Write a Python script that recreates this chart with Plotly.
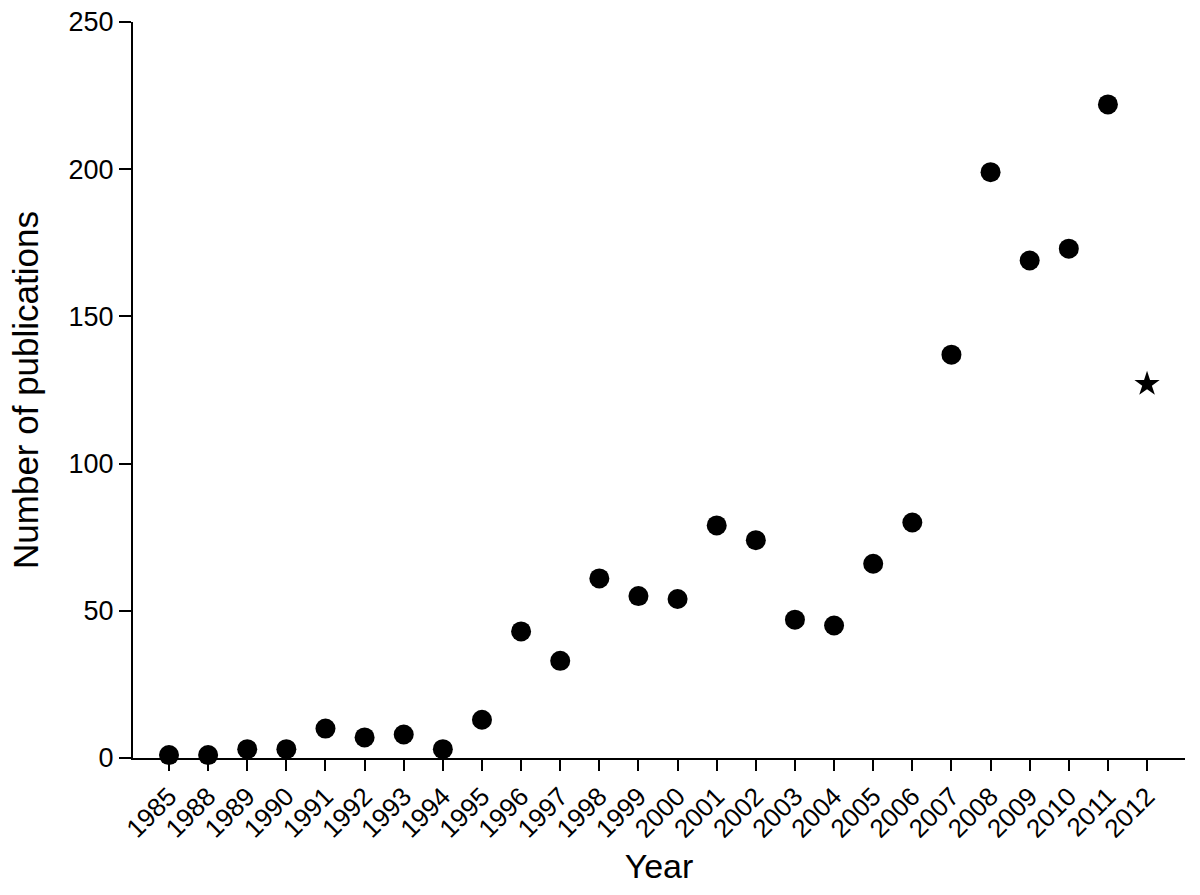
import plotly.graph_objects as go

years = ["1985", "1988", "1989", "1990", "1991", "1992", "1993", "1994", "1995",
         "1996", "1997", "1998", "1999", "2000", "2001", "2002", "2003", "2004",
         "2005", "2006", "2007", "2008", "2009", "2010", "2011"]
publications = [1, 1, 3, 3, 10, 7, 8, 3, 13, 43, 33, 61, 55, 54, 79, 74, 47, 45,
                66, 80, 137, 199, 169, 173, 222]
partial_year = ["2012"]
partial_value = [127]

all_years = years + partial_year

fig = go.Figure()
fig.add_trace(go.Scatter(
    x=years, y=publications, mode="markers",
    marker=dict(symbol="circle", size=20, color="black"),
    cliponaxis=False, showlegend=False,
))
fig.add_trace(go.Scatter(
    x=partial_year, y=partial_value, mode="markers",
    marker=dict(symbol="star", size=19, color="black"),
    cliponaxis=False, showlegend=False,
))

font_family = "Liberation Sans, Arial, sans-serif"
fig.update_layout(
    width=1200, height=895,
    margin=dict(l=133, r=15, t=22, b=137, autoexpand=False),
    paper_bgcolor="white", plot_bgcolor="white",
    font=dict(family=font_family, color="black"),
    xaxis=dict(
        type="category", categoryorder="array", categoryarray=all_years,
        range=[-0.92, 25.97], showgrid=False, zeroline=False,
        showline=True, linecolor="black", linewidth=2,
        ticks="outside", ticklen=11, tickwidth=2, tickcolor="black",
        tickangle=-45, tickfont=dict(size=26),
        title=dict(text="Year", font=dict(size=34), standoff=12),
        automargin=False,
    ),
    yaxis=dict(
        range=[0, 250], tickvals=[0, 50, 100, 150, 200, 250],
        showgrid=False, zeroline=False,
        showline=True, linecolor="black", linewidth=2,
        ticks="outside", ticklen=12, tickwidth=2, tickcolor="black",
        tickfont=dict(size=27),
        title=dict(text="Number of publications", font=dict(size=35), standoff=19),
        automargin=False,
    ),
)

fig.write_html("out.html", config={"displayModeBar": False},
               post_script="document.body.style.margin='0px';")
